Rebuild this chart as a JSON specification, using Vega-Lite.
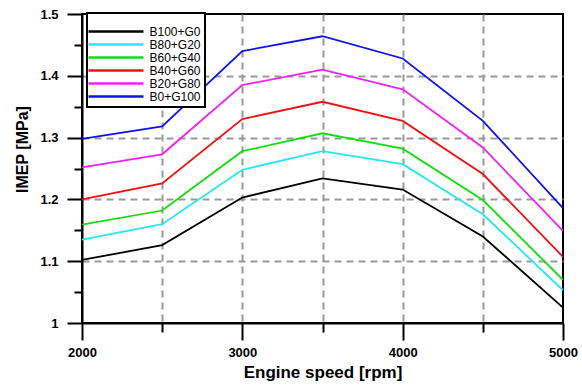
{
  "$schema": "https://vega.github.io/schema/vega-lite/v6.json",
  "width": 481,
  "height": 309,
  "autosize": "none",
  "padding": {"left": 82, "top": 14, "right": 19, "bottom": 66},
  "config": {
    "font": "Liberation Sans",
    "view": {"stroke": "#000", "strokeWidth": 2},
    "legend": {"strokeWidth": 2},
    "axis": {"domainColor": "#000", "domainWidth": 2, "tickColor": "#000", "tickWidth": 2, "labelColor": "#000", "titleColor": "#000", "labelFont": "Liberation Sans", "titleFont": "Liberation Sans", "labelFontWeight": "bold", "titleFontWeight": "bold", "gridColor": "#999999", "gridWidth": 2, "gridDash": [7, 5], "labelOverlap": false, "labelFlush": false}
  },
  "data": {
    "values": [
      {"rpm": 2000, "IMEP": 1.102, "fuel": "B100+G0"},
      {"rpm": 2500, "IMEP": 1.126, "fuel": "B100+G0"},
      {"rpm": 3000, "IMEP": 1.203, "fuel": "B100+G0"},
      {"rpm": 3500, "IMEP": 1.234, "fuel": "B100+G0"},
      {"rpm": 4000, "IMEP": 1.216, "fuel": "B100+G0"},
      {"rpm": 4500, "IMEP": 1.140, "fuel": "B100+G0"},
      {"rpm": 5000, "IMEP": 1.025, "fuel": "B100+G0"},
      {"rpm": 2000, "IMEP": 1.135, "fuel": "B80+G20"},
      {"rpm": 2500, "IMEP": 1.160, "fuel": "B80+G20"},
      {"rpm": 3000, "IMEP": 1.248, "fuel": "B80+G20"},
      {"rpm": 3500, "IMEP": 1.278, "fuel": "B80+G20"},
      {"rpm": 4000, "IMEP": 1.257, "fuel": "B80+G20"},
      {"rpm": 4500, "IMEP": 1.176, "fuel": "B80+G20"},
      {"rpm": 5000, "IMEP": 1.053, "fuel": "B80+G20"},
      {"rpm": 2000, "IMEP": 1.159, "fuel": "B60+G40"},
      {"rpm": 2500, "IMEP": 1.182, "fuel": "B60+G40"},
      {"rpm": 3000, "IMEP": 1.278, "fuel": "B60+G40"},
      {"rpm": 3500, "IMEP": 1.307, "fuel": "B60+G40"},
      {"rpm": 4000, "IMEP": 1.282, "fuel": "B60+G40"},
      {"rpm": 4500, "IMEP": 1.199, "fuel": "B60+G40"},
      {"rpm": 5000, "IMEP": 1.070, "fuel": "B60+G40"},
      {"rpm": 2000, "IMEP": 1.200, "fuel": "B40+G60"},
      {"rpm": 2500, "IMEP": 1.226, "fuel": "B40+G60"},
      {"rpm": 3000, "IMEP": 1.330, "fuel": "B40+G60"},
      {"rpm": 3500, "IMEP": 1.358, "fuel": "B40+G60"},
      {"rpm": 4000, "IMEP": 1.327, "fuel": "B40+G60"},
      {"rpm": 4500, "IMEP": 1.241, "fuel": "B40+G60"},
      {"rpm": 5000, "IMEP": 1.107, "fuel": "B40+G60"},
      {"rpm": 2000, "IMEP": 1.252, "fuel": "B20+G80"},
      {"rpm": 2500, "IMEP": 1.273, "fuel": "B20+G80"},
      {"rpm": 3000, "IMEP": 1.385, "fuel": "B20+G80"},
      {"rpm": 3500, "IMEP": 1.410, "fuel": "B20+G80"},
      {"rpm": 4000, "IMEP": 1.378, "fuel": "B20+G80"},
      {"rpm": 4500, "IMEP": 1.284, "fuel": "B20+G80"},
      {"rpm": 5000, "IMEP": 1.149, "fuel": "B20+G80"},
      {"rpm": 2000, "IMEP": 1.298, "fuel": "B0+G100"},
      {"rpm": 2500, "IMEP": 1.318, "fuel": "B0+G100"},
      {"rpm": 3000, "IMEP": 1.440, "fuel": "B0+G100"},
      {"rpm": 3500, "IMEP": 1.464, "fuel": "B0+G100"},
      {"rpm": 4000, "IMEP": 1.428, "fuel": "B0+G100"},
      {"rpm": 4500, "IMEP": 1.327, "fuel": "B0+G100"},
      {"rpm": 5000, "IMEP": 1.186, "fuel": "B0+G100"}
    ]
  },
  "mark": {"type": "line", "strokeWidth": 1.8},
  "encoding": {
    "x": {
      "field": "rpm",
      "type": "quantitative",
      "scale": {"domain": [2000, 5000], "nice": false, "zero": false},
      "axis": {
        "title": "Engine speed [rpm]",
        "titleFontSize": 17,
        "titleY": 49,
        "titleBaseline": "middle",
        "values": [2000, 2500, 3000, 3500, 4000, 4500, 5000],
        "labelExpr": "datum.value % 1000 == 0 ? format(datum.value, 'd') : ''",
        "labelFontSize": 13,
        "labelPadding": 6,
        "tickSize": {"condition": {"test": "datum.value % 1000 == 0", "value": 17}, "value": 9},
        "grid": true,
        "gridOpacity": {"condition": {"test": "datum.value == 2000 || datum.value == 5000", "value": 0}, "value": 1}
      }
    },
    "y": {
      "field": "IMEP",
      "type": "quantitative",
      "scale": {"domain": [1, 1.5], "nice": false, "zero": false},
      "axis": {
        "title": "IMEP [MPa]",
        "titleFontSize": 16,
        "titleAngle": 270,
        "titleX": -60,
        "titleY": 135,
        "titleAlign": "center",
        "titleBaseline": "middle",
        "values": [1, 1.05, 1.1, 1.15, 1.2, 1.25, 1.3, 1.35, 1.4, 1.45, 1.5],
        "labelExpr": "abs(datum.value * 10 - round(datum.value * 10)) < 0.001 ? format(datum.value, '~g') : ''",
        "labelFontSize": 13,
        "labelPadding": 9,
        "tickSize": {"condition": {"test": "abs(datum.value * 10 - round(datum.value * 10)) < 0.001", "value": 15}, "value": 8},
        "grid": true,
        "gridOpacity": {"condition": {"test": "abs(datum.value * 10 - round(datum.value * 10)) < 0.001 && datum.value > 1.01 && datum.value < 1.49", "value": 1}, "value": 0}
      }
    },
    "color": {
      "field": "fuel",
      "type": "nominal",
      "scale": {
        "domain": ["B100+G0", "B80+G20", "B60+G40", "B40+G60", "B20+G80", "B0+G100"],
        "range": ["#000000", "#22e8f0", "#11dd11", "#ee1111", "#ee22ee", "#1111ee"]
      },
      "legend": {
        "orient": "none",
        "legendX": 5,
        "legendY": -1,
        "title": "\u00a0",
        "titleFontSize": 4,
        "titlePadding": 4,
        "symbolType": "M-5.5,0H5.5",
        "symbolSize": 100,
        "symbolStrokeWidth": 2.5,
        "symbolOffset": 18.5,
        "labelOffset": 27,
        "labelFontSize": 12,
        "labelFont": "Liberation Sans",
        "labelColor": "#000",
        "strokeColor": "#000",
        "fillColor": "#fff",
        "padding": 4,
        "rowPadding": -0.7
      }
    }
  }
}
